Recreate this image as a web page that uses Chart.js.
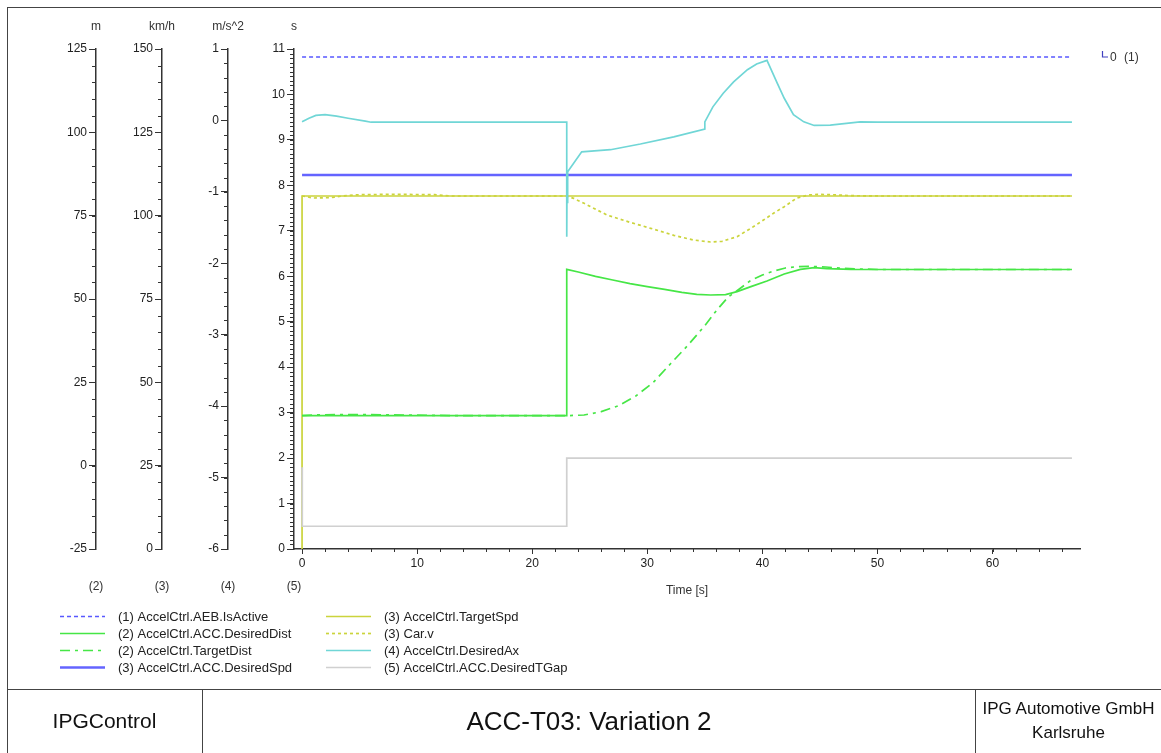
<!DOCTYPE html>
<html><head><meta charset="utf-8">
<script src="https://cdn.jsdelivr.net/npm/chart.js@4.4.1/dist/chart.umd.min.js"></script>
<style>
html,body{margin:0;padding:0;background:#fff;}
#wrap{position:relative;width:1161px;height:753px;overflow:hidden;font-family:"Liberation Sans",Arial,sans-serif;background:#fff;}
canvas{position:absolute;left:0;top:0;}
.frame{position:absolute;left:7px;top:7px;width:1200px;height:800px;border:1.5px solid #444;box-sizing:border-box}
.hl{position:absolute;left:7px;top:689px;width:1200px;height:0;border-top:1.5px solid #444}
.vl{position:absolute;top:689px;height:100px;width:0;border-left:1.5px solid #444}
.tb{position:absolute;color:#111;text-align:center;white-space:nowrap}
</style></head><body>
<div id="wrap">
<div class="frame"></div>
<div class="hl"></div>
<div class="vl" style="left:202px"></div>
<div class="vl" style="left:975px"></div>
<canvas id="c" width="1161" height="753"></canvas>
<div class="tb" style="left:7px;width:195px;top:708px;font-size:21px;line-height:26px">IPGControl</div>
<div class="tb" style="left:203px;width:772px;top:705px;font-size:26px;line-height:32px">ACC-T03: Variation 2</div>
<div class="tb" style="left:976px;width:185px;top:698px;font-size:17px;line-height:21px">IPG Automotive GmbH</div>
<div class="tb" style="left:976px;width:185px;top:722px;font-size:17px;line-height:21px">Karlsruhe</div>
</div>
<script>
// ---- data (time in s) ----
const tAebIsActive = [0, 66.9];
const vAebIsActive = [0, 0];

const tDesiredDist = [0, 23.0, 23.0, 24.0, 25.5, 27.0, 28.5, 30.0, 31.5, 33.0, 34.3, 35.5, 36.8, 37.8, 39.0, 40.4, 41.9, 43.3, 44.5, 45.6, 47.7, 66.9];
const vDesiredDist = [15.0, 15.0, 58.9, 58.1, 56.8, 55.7, 54.6, 53.7, 52.9, 52.0, 51.4, 51.2, 51.3, 52.2, 53.7, 55.4, 57.5, 58.9, 59.4, 59.1, 58.9, 58.85];

const tTargetDist = [0, 1, 3, 6, 9, 11.5, 13, 23.0, 24.5, 26.0, 27.5, 29.0, 30.5, 32.0, 33.5, 35.0, 36.0, 37.0, 38.0, 39.0, 40.0, 41.0, 42.0, 43.0, 44.0, 45.5, 47.0, 48.5, 50.0, 66.9];
const vTargetDist = [15.0, 15.2, 15.3, 15.3, 15.2, 15.1, 15.0, 15.0, 15.2, 16.2, 18.0, 20.9, 24.9, 30.5, 36.0, 42.0, 46.5, 50.5, 53.0, 55.6, 57.2, 58.4, 59.3, 59.7, 59.8, 59.6, 59.2, 59.0, 58.85, 58.85];

const tDesiredSpd = [0, 66.9];
const vDesiredSpd = [112.2, 112.2];

const tTargetSpd = [0, 0, 66.9];
const vTargetSpd = [0, 105.9, 105.9];

const tCarV = [0, 1, 2.5, 3.5, 5, 8, 11.5, 13, 23.0, 23.6, 24.5, 26.5, 28.5, 30.3, 32.3, 34.0, 35.5, 36.5, 37.8, 39.0, 40.1, 41.0, 41.9, 43.0, 44.0, 44.8, 46.0, 47.7, 50.3, 66.9];
const vCarV = [105.9, 105.3, 105.4, 105.9, 106.3, 106.4, 106.3, 105.9, 105.9, 105.2, 103.7, 100.2, 98.0, 96.2, 94.1, 92.7, 92.1, 92.3, 93.7, 96.2, 98.7, 100.8, 102.7, 105.3, 106.2, 106.4, 106.3, 106.0, 105.9, 105.9];

const tDesiredAx = [0, 0.6, 1.2, 2.0, 3.0, 4.0, 5.5, 6.0, 23.0, 23.0, 23.03, 23.06, 23.1, 24.3, 26.8, 29.4, 32.3, 35.0, 35.0, 35.7, 36.6, 37.5, 38.7, 39.5, 40.4, 41.3, 41.9, 42.7, 43.6, 44.5, 45.9, 48.5, 50.0, 66.9];
const vDesiredAx = [-0.02, 0.03, 0.07, 0.08, 0.06, 0.03, -0.01, -0.025, -0.025, -1.63, -0.72, -1.16, -0.72, -0.44, -0.41, -0.33, -0.23, -0.12, -0.02, 0.19, 0.38, 0.54, 0.71, 0.79, 0.84, 0.52, 0.31, 0.08, -0.02, -0.07, -0.065, -0.02, -0.025, -0.025];

const tDesiredTGap = [0, 0.02, 23.0, 23.0, 66.9];
const vDesiredTGap = [1.8, 0.5, 0.5, 2.0, 2.0];

// axis ticks
const mTicks = [-25, 0, 25, 50, 75, 100, 125];
const kmhTicks = [0, 25, 50, 75, 100, 125, 150];
const accTicks = [-6, -5, -4, -3, -2, -1, 0, 1];
const sTicks = [0, 1, 2, 3, 4, 5, 6, 7, 8, 9, 10, 11];
const timeTicks = [0, 10, 20, 30, 40, 50, 60];
const unitLabels = {yM: 'm', yKmh: 'km/h', yAcc: 'm/s^2', yS: 's'};
const axisNumbers = {yM: '(2)', yKmh: '(3)', yAcc: '(4)', yS: '(5)'};

const pts = (t, v) => t.map((x, i) => ({x: x, y: v[i]}));

const GREEN = '#46e646', YEL = '#cbd43c';
const datasets = [
  {label: '(1) AccelCtrl.AEB.IsActive', data: pts(tAebIsActive, vAebIsActive), yAxisID: 'yBool', borderColor: '#5858ff', borderWidth: 1.5, borderDash: [4, 3], order: 1},
  {label: '(2) AccelCtrl.ACC.DesiredDist', data: pts(tDesiredDist, vDesiredDist), yAxisID: 'yM', borderColor: GREEN, borderWidth: 1.7, order: 4},
  {label: '(2) AccelCtrl.TargetDist', data: pts(tTargetDist, vTargetDist), yAxisID: 'yM', borderColor: GREEN, borderWidth: 1.7, borderDash: [10, 5, 3, 5], order: 5},
  {label: '(3) AccelCtrl.ACC.DesiredSpd', data: pts(tDesiredSpd, vDesiredSpd), yAxisID: 'yKmh', borderColor: '#6464ff', borderWidth: 2.4, order: 6},
  {label: '(3) AccelCtrl.TargetSpd', data: pts(tTargetSpd, vTargetSpd), yAxisID: 'yKmh', borderColor: YEL, borderWidth: 1.7, order: 8},
  {label: '(3) Car.v', data: pts(tCarV, vCarV), yAxisID: 'yKmh', borderColor: YEL, borderWidth: 1.7, borderDash: [3, 3], order: 7},
  {label: '(4) AccelCtrl.DesiredAx', data: pts(tDesiredAx, vDesiredAx), yAxisID: 'yAcc', borderColor: '#70d6d6', borderWidth: 1.7, order: 3},
  {label: '(5) AccelCtrl.ACC.DesiredTGap', data: pts(tDesiredTGap, vDesiredTGap), yAxisID: 'yS', borderColor: '#d0d0d0', borderWidth: 1.7, order: 2}
];
datasets.forEach(d => { d.pointRadius = 0; d.tension = 0; d.fill = false; });

const FONT = {family: '"Liberation Sans", Arial, sans-serif', size: 12};
Chart.defaults.font.family = FONT.family;
Chart.defaults.color = '#333';

function yAxis(min, max, weight, ticks) {
  return {
    type: 'linear', position: 'left', min: min, max: max, weight: weight,
    grid: {display: true, drawOnChartArea: false, drawTicks: true, tickLength: 7, color: '#333', lineWidth: 1},
    border: {display: true, color: '#333', width: 1.5},
    ticks: {font: FONT, color: '#222', padding: 2},
    afterBuildTicks: s => { s.ticks = ticks.map(v => ({value: v})); },
    afterFit: s => { s.width = 66; }
  };
}

const minorSpec = {yM: 5, yKmh: 5, yAcc: 0.2, yS: 0.1, x: 2};
const legendLayout = [
  [0, 60, 616], [1, 60, 633], [2, 60, 650], [3, 60, 667],
  [4, 326, 616], [5, 326, 633], [6, 326, 650], [7, 326, 667]
];

const decor = {
  id: 'decor',
  afterDraw(chart) {
    const ctx = chart.ctx;
    ctx.save();
    // minor ticks
    ctx.strokeStyle = '#333'; ctx.lineWidth = 1;
    for (const id in minorSpec) {
      const s = chart.scales[id], step = minorSpec[id];
      const start = Math.ceil(s.min / step - 1e-9);
      const end = Math.floor(s.max / step + 1e-9);
      ctx.beginPath();
      for (let k = start; k <= end; k++) {
        const p = Math.round(s.getPixelForValue(k * step)) + 0.5;
        if (id === 'x') { ctx.moveTo(p, s.top); ctx.lineTo(p, s.top + 3); }
        else { ctx.moveTo(s.right - 4, p); ctx.lineTo(s.right, p); }
      }
      ctx.stroke();
    }
    // unit and axis-number labels
    ctx.fillStyle = '#333'; ctx.textAlign = 'center'; ctx.textBaseline = 'middle';
    ctx.font = '12px ' + FONT.family;
    for (const id in unitLabels) {
      const s = chart.scales[id];
      ctx.fillText(unitLabels[id], s.right, 27);
      ctx.fillText(axisNumbers[id], s.right, 587);
    }
    const ca = chart.chartArea;
    ctx.fillText('Time [s]', (ca.left + ca.right) / 2, 591);
    // marker for series (1)
    const yb = chart.scales.yBool.getPixelForValue(0);
    ctx.strokeStyle = '#4040c0'; ctx.lineWidth = 1.2;
    ctx.beginPath(); ctx.moveTo(1102.5, yb - 6); ctx.lineTo(1102.5, yb); ctx.lineTo(1108, yb); ctx.stroke();
    ctx.textAlign = 'left'; ctx.fillStyle = '#333';
    ctx.fillText('0', 1110, yb + 1);
    ctx.fillText('(1)', 1124, yb + 1);
    // legend
    ctx.font = '13px ' + FONT.family;
    legendLayout.forEach(([i, x, y]) => {
      const d = chart.data.datasets[i];
      ctx.strokeStyle = d.borderColor; ctx.lineWidth = d.borderWidth;
      ctx.setLineDash(d.borderDash || []);
      ctx.beginPath(); ctx.moveTo(x, y + 0.5); ctx.lineTo(x + 45, y + 0.5); ctx.stroke();
      ctx.setLineDash([]);
      ctx.fillStyle = '#222';
      ctx.fillText(d.label, x + 58, y + 1);
    });
    ctx.restore();
  }
};

new Chart(document.getElementById('c'), {
  type: 'line',
  data: {datasets: datasets},
  options: {
    responsive: false, animation: false, devicePixelRatio: 1,
    layout: {padding: {left: 30, top: 49, right: 81, bottom: 174}},
    plugins: {legend: {display: false}, tooltip: {enabled: false}},
    scales: {
      x: {
        type: 'linear', position: 'bottom', min: -0.7, max: 67.6,
        grid: {display: true, drawOnChartArea: false, drawTicks: true, tickLength: 5, color: '#333'},
        border: {display: true, color: '#333', width: 1.5},
        ticks: {font: FONT, color: '#222', padding: 2, maxRotation: 0},
        afterBuildTicks: s => { s.ticks = timeTicks.map(v => ({value: v})); },
        afterFit: s => { s.height = 30; }
      },
      yS: yAxis(0, 11, 0, sTicks),
      yAcc: yAxis(-6, 1, 1, accTicks),
      yKmh: yAxis(0, 150, 2, kmhTicks),
      yM: yAxis(-25, 125, 3, mTicks),
      yBool: {type: 'linear', display: false, min: -9.84, max: 0.16}
    }
  },
  plugins: [decor]
});
</script>
</body></html>
